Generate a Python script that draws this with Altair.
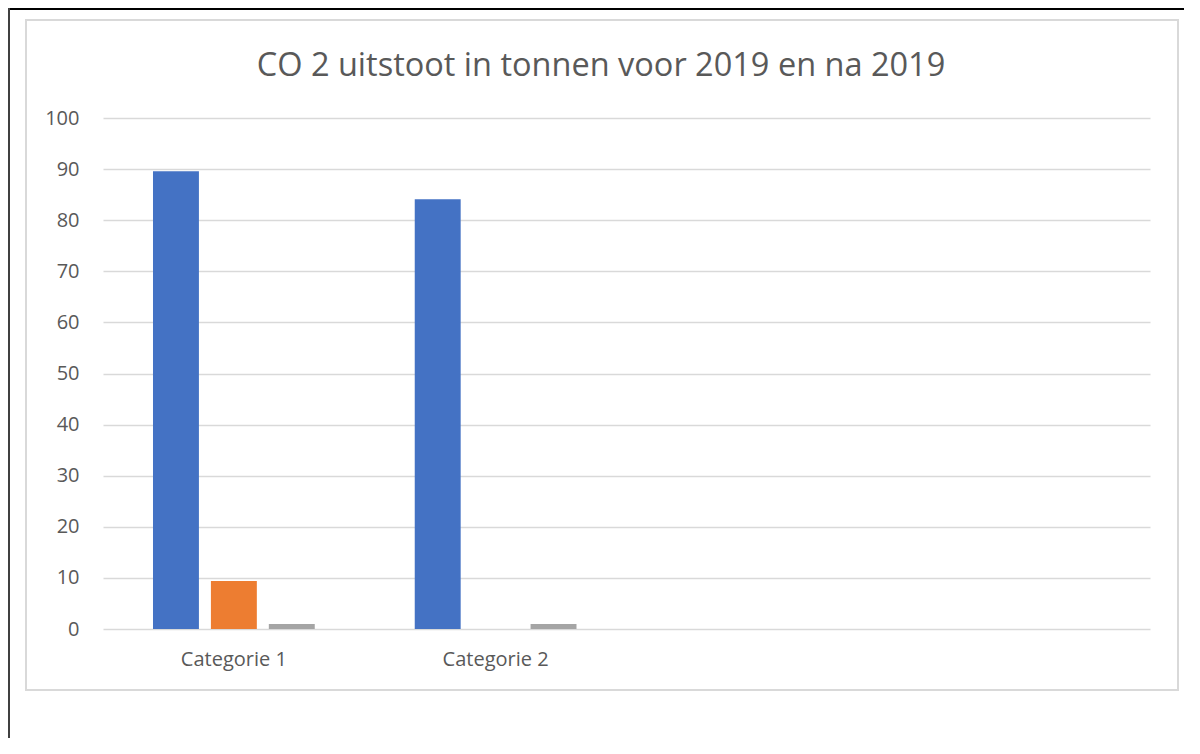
import altair as alt
import pandas as pd

categories = ["Categorie 1", "Categorie 2", "Categorie 3", "Categorie 4"]
shown_labels = ["Categorie 1", "Categorie 2"]
series = ["Reeks 1", "Reeks 2", "Reeks 3"]
cat_col = ["Categorie 1", "Categorie 1", "Categorie 1", "Categorie 2", "Categorie 2", "Categorie 2"]
ser_col = ["Reeks 1", "Reeks 2", "Reeks 3", "Reeks 1", "Reeks 2", "Reeks 3"]
values = [89.6, 9.4, 1.0, 84.1, 0.0, 1.0]
colors = ["#4472C4", "#ED7D31", "#A5A5A5"]
title_text = "CO 2 uitstoot in tonnen voor 2019 en na 2019"
y_ticks = [0, 10, 20, 30, 40, 50, 60, 70, 80, 90, 100]

df = pd.DataFrame({"categorie": cat_col, "reeks": ser_col, "waarde": values})
one = pd.DataFrame({"t": [title_text]})

W, H = 1047, 511
FONT = "Open Sans"
TXT = "#595959"

label_expr = "indexof(" + str(shown_labels).replace('"', "'") + ", datum.value) >= 0 ? datum.value : ''"

bars = alt.Chart(df).mark_bar().encode(
    x=alt.X("categorie:N", sort=categories,
            scale=alt.Scale(domain=categories, paddingInner=0.382, paddingOuter=0.191),
            axis=alt.Axis(title=None, labelExpr=label_expr, labelAngle=0, labelFont=FONT,
                          labelFontSize=20, labelColor=TXT, labelPadding=20,
                          domain=False, ticks=False, grid=False)),
    xOffset=alt.XOffset("reeks:N", sort=series,
                        scale=alt.Scale(domain=series, paddingInner=0.207, paddingOuter=0)),
    y=alt.Y("waarde:Q", scale=alt.Scale(domain=[0, 100], nice=False),
            axis=alt.Axis(title=None, values=y_ticks, labelFont=FONT, labelFontSize=20,
                          labelColor=TXT, labelPadding=24, domain=False, ticks=False,
                          grid=True, gridColor="#d9d9d9", gridWidth=1.5)),
    color=alt.Color("reeks:N", sort=series,
                    scale=alt.Scale(domain=series, range=colors), legend=None),
)

title = alt.Chart(one).mark_text(font=FONT, fontSize=32.5, color=TXT, align="center",
                                 baseline="alphabetic").encode(
    text="t:N", x=alt.value(498), y=alt.value(-42)
)

frame = alt.Chart(one).mark_rect(fill=None, stroke="#d9d9d9", strokeWidth=2).encode(
    x=alt.value(-77), x2=alt.value(1075), y=alt.value(-98), y2=alt.value(572)
)

top_line = alt.Chart(one).mark_rule(color="#000000", strokeWidth=2).encode(
    x=alt.value(-95), x2=alt.value(1090), y=alt.value(-109)
)
left_line = alt.Chart(one).mark_rule(color="#404040", strokeWidth=2).encode(
    x=alt.value(-94), y=alt.value(-110), y2=alt.value(640)
)

chart = alt.layer(frame, top_line, left_line, bars, title).properties(
    width=W, height=H,
    autosize=alt.AutoSizeParams(type="none"),
    padding={"left": 95, "top": 110, "right": 34, "bottom": 109},
    background="white",
).configure_view(stroke=None, strokeWidth=0)

chart.save("out.html", embed_options={"renderer": "svg", "actions": False})
